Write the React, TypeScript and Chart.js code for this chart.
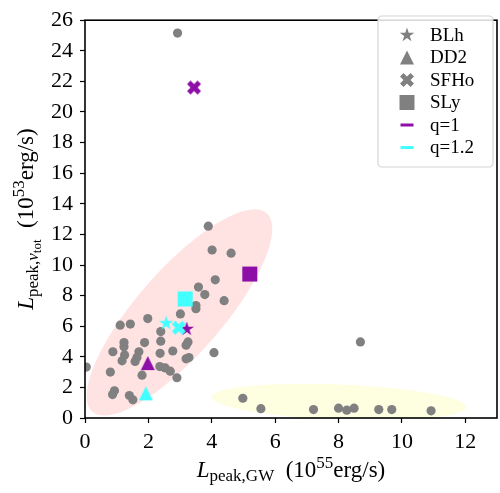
import React, { useEffect, useRef } from "react";
import { Chart, registerables } from "chart.js";

Chart.register(...registerables);

// ---------- data ----------
const grayX = [
  2.92, 3.89, 4.01, 4.61, 4.11, 3.58, 3.78, 4.39, 3.5, 3.5, 3.01, 1.98, 1.11, 1.43,
  2.39, 2.39, 1.88, 1.23, 1.23, 3.25, 3.19, 2.77, 0.88, 1.7, 1.25, 2.37, 1.64, 3.28,
  3.19, 1.17, 1.58, 0.04, 2.36, 2.53, 2.69, 1.8, 2.9, 0.8, 0.93, 0.87, 1.4, 1.51,
  4.07, 8.69, 4.98, 5.55, 7.21, 8.0, 8.26, 8.49, 9.27, 9.68, 10.92,
];
const grayY = [
  25.16, 12.54, 10.98, 10.77, 9.03, 8.56, 8.07, 7.67, 7.35, 7.14, 6.8, 6.5, 6.07, 6.14,
  5.65, 5.02, 4.93, 4.93, 4.65, 4.97, 4.76, 4.38, 4.33, 4.33, 4.12, 4.23, 3.95, 3.95,
  3.87, 3.74, 3.7, 3.33, 3.36, 3.27, 3.06, 2.8, 2.63, 3.0, 1.78, 1.53, 1.47, 1.19,
  4.27, 4.97, 1.29, 0.61, 0.55, 0.64, 0.51, 0.64, 0.55, 0.55, 0.47,
];

const eosNames = ["BLh", "DD2", "SFHo", "SLy"];
const eosShapes = ["star", "triangle", "x", "square"];
const q1X = [3.21, 1.98, 3.44, 5.2];
const q1Y = [5.82, 3.59, 21.6, 9.41];
const q12X = [2.56, 1.92, 2.96, 3.16];
const q12Y = [6.2, 1.61, 5.9, 7.78];
const qLabels = ["q=1", "q=1.2"];

const xTicks = [0, 2, 4, 6, 8, 10, 12];
const yTicks = [0, 2, 4, 6, 8, 10, 12, 14, 16, 18, 20, 22, 24, 26];
const xRange = [0, 13];
const yRange = [0, 26];

// ellipses (data units): centre, first and second semi-axis vectors
const ellCX = [2.98, 8.01];
const ellCY = [6.9, 1.04];
const ellAX = [2.74, 4.02];
const ellAY = [6.5, -0.32];
const ellBX = [1.03, -0.02];
const ellBY = [-1.78, 1.15];
const ellColors = ["#ffe3e3", "#fefee0"];

// ---------- styles ----------
const GRAY = "#808080";
const PURPLE = "#8e0ea8";
const CYAN = "#44ffff";
const SERIF = "'Liberation Serif', 'Times New Roman', serif";

function markerPath(ctx: CanvasRenderingContext2D, kind: string, s: number) {
  ctx.beginPath();
  if (kind === "star") {
    for (let i = 0; i < 10; i++) {
      const r = i % 2 === 0 ? s : s * 0.381966;
      const a = -Math.PI / 2 + (i * Math.PI) / 5;
      ctx.lineTo(r * Math.cos(a), r * Math.sin(a));
    }
  } else if (kind === "triangle") {
    ctx.moveTo(0, -s);
    ctx.lineTo(s, s);
    ctx.lineTo(-s, s);
  } else if (kind === "x") {
    const pts = [
      [-0.25, -0.5], [0, -0.25], [0.25, -0.5], [0.5, -0.25], [0.25, 0], [0.5, 0.25],
      [0.25, 0.5], [0, 0.25], [-0.25, 0.5], [-0.5, 0.25], [-0.25, 0], [-0.5, -0.25],
    ];
    pts.forEach((p) => ctx.lineTo(p[0] * 2 * s, p[1] * 2 * s));
  } else {
    ctx.rect(-s, -s, 2 * s, 2 * s);
  }
  ctx.closePath();
}

const markerHalf: Record<string, number> = { star: 7.6, triangle: 7, x: 7, square: 7.5 };

function makeMarker(kind: string, color: string): HTMLCanvasElement {
  const s = markerHalf[kind];
  const size = Math.ceil(2 * s + 4);
  const c = document.createElement("canvas");
  c.width = size;
  c.height = size;
  const ctx = c.getContext("2d")!;
  ctx.translate(size / 2, size / 2);
  markerPath(ctx, kind, s);
  ctx.fillStyle = color;
  ctx.fill();
  return c;
}

function drawRich(
  ctx: CanvasRenderingContext2D,
  parts: { t: string; size: number; italic?: boolean; dy?: number }[],
  cx: number,
  baseline: number
) {
  const fontOf = (p: any) => `${p.italic ? "italic " : ""}${p.size}px ${SERIF}`;
  let total = 0;
  const widths = parts.map((p) => {
    ctx.font = fontOf(p);
    const w = ctx.measureText(p.t).width;
    total += w;
    return w;
  });
  let x = cx - total / 2;
  ctx.fillStyle = "#000";
  ctx.textBaseline = "alphabetic";
  ctx.textAlign = "left";
  parts.forEach((p, i) => {
    ctx.font = fontOf(p);
    ctx.fillText(p.t, x, baseline + (p.dy || 0));
    x += widths[i];
  });
}

const decorPlugin = {
  id: "decor",
  beforeDatasetsDraw(chart: any) {
    const { ctx, chartArea, scales } = chart;
    const xs = scales.x;
    const ys = scales.y;
    ctx.save();
    ctx.beginPath();
    ctx.rect(chartArea.left, chartArea.top, chartArea.right - chartArea.left, chartArea.bottom - chartArea.top);
    ctx.clip();
    for (let e = 0; e < ellCX.length; e++) {
      ctx.beginPath();
      for (let i = 0; i <= 180; i++) {
        const t = (i / 180) * Math.PI * 2;
        const dx = ellCX[e] + ellAX[e] * Math.cos(t) + ellBX[e] * Math.sin(t);
        const dy = ellCY[e] + ellAY[e] * Math.cos(t) + ellBY[e] * Math.sin(t);
        const px = xs.getPixelForValue(dx);
        const py = ys.getPixelForValue(dy);
        if (i === 0) ctx.moveTo(px, py);
        else ctx.lineTo(px, py);
      }
      ctx.closePath();
      ctx.fillStyle = ellColors[e];
      ctx.fill();
    }
    ctx.restore();
  },
  afterDraw(chart: any) {
    const { ctx, chartArea } = chart;
    ctx.save();
    // frame
    ctx.strokeStyle = "#000";
    ctx.lineWidth = 1.6;
    ctx.strokeRect(chartArea.left, chartArea.top, chartArea.right - chartArea.left, chartArea.bottom - chartArea.top);

    // x title
    drawRich(
      ctx,
      [
        { t: "L", size: 23, italic: true },
        { t: "peak,GW", size: 17, dy: 4 },
        { t: "  (10", size: 23 },
        { t: "55", size: 17, dy: -9 },
        { t: "erg/s)", size: 23 },
      ],
      (chartArea.left + chartArea.right) / 2,
      477
    );

    // y title
    ctx.save();
    ctx.translate(33, (chartArea.top + chartArea.bottom) / 2);
    ctx.rotate(-Math.PI / 2);
    drawRich(
      ctx,
      [
        { t: "L", size: 23, italic: true },
        { t: "peak,", size: 17, dy: 5 },
        { t: "ν", size: 17, italic: true, dy: 5 },
        { t: "tot", size: 13, dy: 8 },
        { t: "  (10", size: 23 },
        { t: "53", size: 17, dy: -9 },
        { t: "erg/s)", size: 23 },
      ],
      0,
      0
    );
    ctx.restore();

    // legend
    const bx = 378, by = 16, bw = 115, bh = 151, r = 4;
    ctx.beginPath();
    ctx.moveTo(bx + r, by);
    ctx.arcTo(bx + bw, by, bx + bw, by + bh, r);
    ctx.arcTo(bx + bw, by + bh, bx, by + bh, r);
    ctx.arcTo(bx, by + bh, bx, by, r);
    ctx.arcTo(bx, by, bx + bw, by, r);
    ctx.closePath();
    ctx.fillStyle = "rgba(255,255,255,0.85)";
    ctx.fill();
    ctx.strokeStyle = "#d4d4d4";
    ctx.lineWidth = 1.2;
    ctx.stroke();

    const labels = [...eosNames, ...qLabels];
    ctx.textBaseline = "middle";
    ctx.textAlign = "left";
    labels.forEach((lab, i) => {
      const y = 35 + i * 22.5;
      const mx = 407;
      if (i < eosShapes.length) {
        ctx.save();
        ctx.translate(mx, y);
        const k = eosShapes[i];
        markerPath(ctx, k, markerHalf[k]);
        ctx.fillStyle = GRAY;
        ctx.fill();
        ctx.restore();
      } else {
        ctx.strokeStyle = i === 4 ? PURPLE : CYAN;
        ctx.lineWidth = 3;
        ctx.beginPath();
        ctx.moveTo(mx - 6.5, y);
        ctx.lineTo(mx + 6.5, y);
        ctx.stroke();
      }
      ctx.fillStyle = "#000";
      ctx.font = `19px ${SERIF}`;
      ctx.fillText(lab, 430, y + 1);
    });
    ctx.restore();
  },
};

export default function App() {
  const ref = useRef<HTMLCanvasElement | null>(null);

  useEffect(() => {
    if (!ref.current) return;
    const q1Markers = eosShapes.map((k) => makeMarker(k, PURPLE));
    const q12Markers = eosShapes.map((k) => makeMarker(k, CYAN));

    const tickFont = { family: SERIF, size: 22 };

    const chart = new Chart(ref.current, {
      type: "scatter",
      data: {
        datasets: [
          {
            label: "others",
            data: grayX.map((x, i) => ({ x, y: grayY[i] })),
            pointStyle: "circle",
            pointRadius: 4.6,
            backgroundColor: GRAY,
            borderWidth: 0,
            order: 3,
          },
          {
            label: qLabels[0],
            data: q1X.map((x, i) => ({ x, y: q1Y[i] })),
            pointStyle: q1Markers as any,
            pointRadius: 8,
            order: 2,
          },
          {
            label: qLabels[1],
            data: q12X.map((x, i) => ({ x, y: q12Y[i] })),
            pointStyle: q12Markers as any,
            pointRadius: 8,
            order: 1,
          },
        ],
      },
      options: {
        animation: false,
        responsive: false,
        devicePixelRatio: 1,
        layout: { autoPadding: false, padding: { top: 10, right: 3, left: 0, bottom: 0 } },
        plugins: { legend: { display: false }, tooltip: { enabled: false } },
        scales: {
          x: {
            type: "linear",
            min: xRange[0],
            max: xRange[1],
            afterBuildTicks: (s: any) => {
              s.ticks = xTicks.map((v) => ({ value: v }));
            },
            afterFit: (s: any) => {
              s.height = 75;
            },
            grid: { drawOnChartArea: false, tickLength: 5, tickColor: "#000", tickWidth: 1.2 },
            border: { display: false },
            ticks: { color: "#000", font: tickFont, padding: 6, maxRotation: 0, autoSkip: false },
          },
          y: {
            type: "linear",
            min: yRange[0],
            max: yRange[1],
            afterBuildTicks: (s: any) => {
              s.ticks = yTicks.map((v) => ({ value: v }));
            },
            afterFit: (s: any) => {
              s.width = 85;
            },
            grid: { drawOnChartArea: false, tickLength: 5, tickColor: "#000", tickWidth: 1.2 },
            border: { display: false },
            ticks: { color: "#000", font: tickFont, padding: 7, autoSkip: false },
          },
        },
      } as any,
      plugins: [decorPlugin],
    });
    return () => chart.destroy();
  }, []);

  return (
    <div style={{ position: "absolute", left: 0, top: 0, width: 500, height: 493 }}>
      <canvas ref={ref} width={500} height={493} />
    </div>
  );
}
